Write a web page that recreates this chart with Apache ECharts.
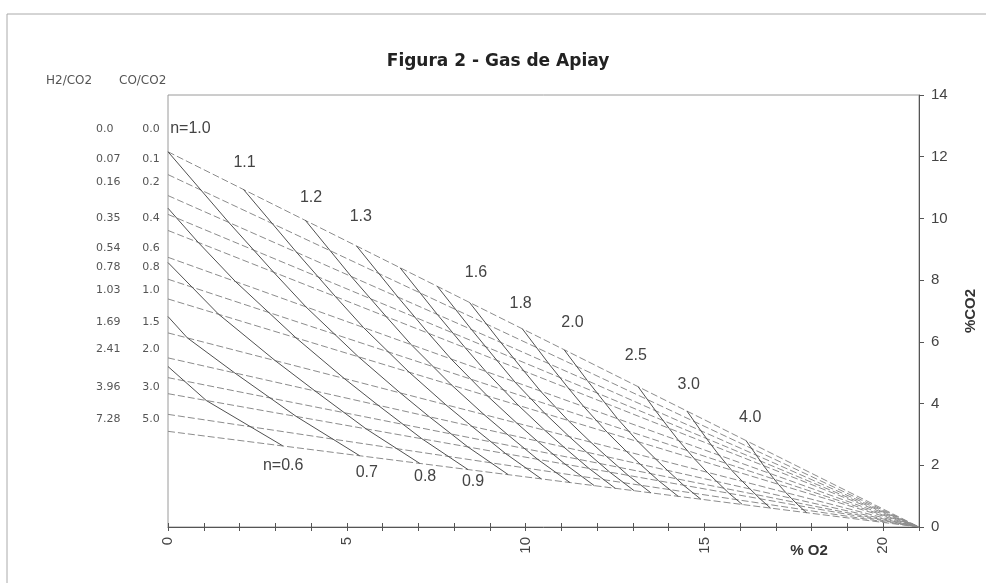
<!DOCTYPE html>
<html>
<head>
<meta charset="utf-8">
<script src="https://cdn.jsdelivr.net/npm/echarts@6/dist/echarts.min.js"></script>
<style>
html,body{margin:0;padding:0;background:#fff;}
#c{width:986px;height:583px;}
</style>
</head>
<body>
<div id="c"></div>
<script>
// ---- data ----
// Lines of constant CO/CO2 ratio: start on the %O2 = 0 axis, all meet at pure air (21 % O2, 0 % CO2)
const coRatios   = [0, 0.1, 0.2, 0.3, 0.4, 0.6, 0.8, 1.0, 1.5, 2.0, 2.5, 3.0, 4.0, 5.0];
const coStartCO2 = [12.16, 11.42, 10.74, 10.13, 9.61, 8.74, 8.03, 7.39, 6.29, 5.48, 4.84, 4.32, 3.65, 3.10];
const airPoint   = [21, 0];

// Lines of constant excess-air factor n: [%O2, %CO2] points
const nValues = [1.0, 1.1, 1.2, 1.3, 1.4, 1.5, 1.6, 1.8, 2.0, 2.5, 3.0, 4.0, 0.9, 0.8, 0.7, 0.6];
const nLine10 = [[0,12.16],[1.70,9.87],[2.96,8.25],[3.86,7.13],[5.32,5.52],[6.49,4.35],[7.31,3.57],[8.38,2.60],[9.51,1.70]];
const nLine11 = [[2.11,10.94],[3.59,8.91],[4.68,7.47],[5.47,6.46],[6.74,5.02],[7.77,3.96],[8.49,3.27],[9.44,2.38],[10.44,1.56]];
const nLine12 = [[3.84,9.94],[5.13,8.11],[6.10,6.82],[6.80,5.91],[7.93,4.60],[8.84,3.64],[9.48,3.01],[10.34,2.19],[11.24,1.44]];
const nLine13 = [[5.27,9.11],[6.43,7.45],[7.29,6.27],[7.92,5.44],[8.93,4.25],[9.75,3.37],[10.33,2.78],[11.10,2.04],[11.92,1.34]];
const nLine14 = [[6.49,8.40],[7.53,6.89],[8.31,5.81],[8.88,5.05],[9.79,3.95],[10.54,3.13],[11.07,2.59],[11.77,1.90],[12.51,1.25]];
const nLine15 = [[7.53,7.80],[8.48,6.41],[9.19,5.41],[9.70,4.70],[10.54,3.68],[11.22,2.93],[11.70,2.43],[12.35,1.78],[13.03,1.18]];
const nLine16 = [[8.43,7.28],[9.30,5.99],[9.95,5.06],[10.42,4.40],[11.19,3.45],[11.82,2.75],[12.27,2.28],[12.86,1.68],[13.50,1.11]];
const nLine18 = [[9.91,6.42],[10.65,5.29],[11.21,4.48],[11.62,3.91],[12.28,3.07],[12.82,2.45],[13.21,2.03],[13.72,1.50],[14.27,0.99]];
const nLine20 = [[11.08,5.74],[11.73,4.74],[12.22,4.02],[12.57,3.51],[13.15,2.76],[13.63,2.21],[13.96,1.84],[14.42,1.35],[14.90,0.90]];
const nLine25 = [[13.15,4.54],[13.64,3.76],[14.01,3.20],[14.28,2.80],[14.72,2.21],[15.08,1.77],[15.34,1.48],[15.69,1.09],[16.06,0.73]];
const nLine30 = [[14.51,3.76],[14.90,3.12],[15.19,2.66],[15.41,2.33],[15.76,1.84],[16.06,1.48],[16.27,1.24],[16.55,0.92],[16.85,0.61]];
const nLine40 = [[16.17,2.79],[16.45,2.33],[16.66,1.98],[16.82,1.74],[17.07,1.38],[17.28,1.11],[17.43,0.93],[17.64,0.69],[17.86,0.46]];
const nLine09 = [[0,10.33],[0.84,9.23],[1.89,7.95],[3.58,6.13],[4.93,4.81],[5.87,3.95],[7.10,2.86],[8.39,1.86]];
const nLine08 = [[0,8.57],[1.41,6.90],[3.00,5.39],[4.11,4.41],[5.54,3.18],[7.04,2.06]];
const nLine07 = [[0,6.82],[0.54,6.13],[1.87,4.99],[3.59,3.58],[5.36,2.31]];
const nLine06 = [[0,5.20],[1.07,4.10],[3.21,2.63]];
const nLines = [nLine10,nLine11,nLine12,nLine13,nLine14,nLine15,nLine16,nLine18,nLine20,nLine25,nLine30,nLine40,nLine09,nLine08,nLine07,nLine06];

// n labels and their anchor points [%O2, %CO2]
const nLabelText = ['n=1.0','1.1','1.2','1.3','1.6','1.8','2.0','2.5','3.0','4.0','n=0.6','0.7','0.8','0.9'];
const nLabelAt   = [[0.06,12.90],[2.14,11.80],[4.00,10.69],[5.39,10.05],[8.61,8.23],[9.86,7.23],[11.31,6.61],[13.08,5.54],[14.56,4.60],[16.28,3.56],[3.22,1.98],[5.56,1.75],[7.19,1.62],[8.53,1.46]];

// left-hand legend columns (H2/CO2 and CO/CO2) and their %CO2 heights
const h2co2Labels = ['0.0','0.07','0.16','0.35','0.54','0.78','1.03','1.69','2.41','3.96','7.28'];
const coco2Labels = ['0.0','0.1','0.2','0.4','0.6','0.8','1.0','1.5','2.0','3.0','5.0'];
const leftLabelCO2 = [12.90, 11.92, 11.18, 10.01, 9.04, 8.43, 7.68, 6.64, 5.77, 4.54, 3.50];

const xTickLabels = [0, 5, 10, 15, 20];

// ---- layout ----
const G = {left:168, right:62, top:95, bottom:56};
const W = 986, H = 583;
const gridW = W - G.left - G.right, gridH = H - G.top - G.bottom;

// ---- chart ----
const chart = echarts.init(document.getElementById('c'), null, {renderer:'canvas'});
const series = [];
coRatios.forEach((r, i) => {
  series.push({
    type:'line', name:'CO/CO2=' + r, data:[[0, coStartCO2[i]], airPoint],
    symbol:'none', silent:true, animation:false,
    lineStyle:{color:'#8c8c8c', width:1, type:[7,3]}, z:2
  });
});
nLines.forEach((pts, i) => {
  series.push({
    type:'line', name:'n=' + nValues[i], data:pts,
    symbol:'none', silent:true, animation:false,
    lineStyle:{color:'#505050', width:1}, z:3
  });
});

const tickStyle = {color:'#555'};
chart.setOption({
  animation:false,
  grid:Object.assign({show:true, borderColor:'#9a9a9a', borderWidth:1}, G),
  xAxis:[
    {type:'value', position:'bottom', min:0, max:21, interval:1, splitLine:{show:false},
      axisLine:{show:true, onZero:false, lineStyle:{color:'#555'}},
      axisTick:{show:true, length:4, lineStyle:tickStyle},
      axisLabel:{rotate:90, margin:10, fontSize:15, color:'#444', fontFamily:'Liberation Sans',
        formatter:v => xTickLabels.indexOf(v) >= 0 ? String(v) : ''}},
    // second copy of the scale, moved onto the bottom edge, so the ticks also point into the plot
    {type:'value', position:'top', offset:-gridH, min:0, max:21, interval:1, splitLine:{show:false},
      axisLine:{show:false}, axisTick:{show:true, length:4, lineStyle:tickStyle},
      axisLabel:{show:false}}
  ],
  yAxis:[
    {type:'value', position:'right', min:0, max:14, interval:2, splitLine:{show:false},
      axisLine:{show:true, onZero:false, lineStyle:{color:'#555'}},
      axisTick:{show:true, length:5, lineStyle:tickStyle},
      axisLabel:{margin:12, fontSize:15, color:'#444', fontFamily:'Liberation Sans'},
      name:'%CO2', nameLocation:'middle', nameRotate:90, nameGap:44,
      nameTextStyle:{fontSize:15, fontWeight:'bold', color:'#333', fontFamily:'Liberation Sans'}},
    {type:'value', position:'left', offset:-gridW, min:0, max:14, interval:2, splitLine:{show:false},
      axisLine:{show:false}, axisTick:{show:true, length:5, lineStyle:tickStyle},
      axisLabel:{show:false}}
  ],
  series: series
});

function px(pt){ return chart.convertToPixel({xAxisIndex:0, yAxisIndex:0}, pt); }
function pyOnly(v){ return chart.convertToPixel({yAxisIndex:0}, v); }

const g = [];
// outer frame of the figure
g.push({type:'rect', shape:{x:7, y:14, width:1000, height:620}, style:{fill:'none', stroke:'#aaa', lineWidth:1}, silent:true});
// title
g.push({type:'text', x:498, y:62, style:{text:'Figura 2 - Gas de Apiay', font:'bold 17px "DejaVu Sans"', fill:'#222', align:'center', verticalAlign:'middle'}});
// left column headers
g.push({type:'text', x:46, y:81, style:{text:'H2/CO2', font:'12px "DejaVu Sans"', fill:'#555', align:'left', verticalAlign:'middle'}});
g.push({type:'text', x:119, y:81, style:{text:'CO/CO2', font:'12px "DejaVu Sans"', fill:'#555', align:'left', verticalAlign:'middle'}});
// left columns
h2co2Labels.forEach((t, i) => {
  const y = pyOnly(leftLabelCO2[i]);
  g.push({type:'text', x:96, y:y, style:{text:t, font:'11px "DejaVu Sans"', fill:'#555', align:'left', verticalAlign:'middle'}});
  g.push({type:'text', x:151, y:y, style:{text:coco2Labels[i], font:'11px "DejaVu Sans"', fill:'#555', align:'center', verticalAlign:'middle'}});
});
// n labels
nLabelText.forEach((t, i) => {
  const p = px(nLabelAt[i]);
  g.push({type:'text', x:p[0], y:p[1], style:{text:t, font:'16px "Liberation Sans"', fill:'#444', align: i === 0 ? 'left' : 'center', verticalAlign:'middle'}});
});
// x axis name
g.push({type:'text', x:809, y:551, style:{text:'% O2', font:'bold 15px "Liberation Sans"', fill:'#333', align:'center', verticalAlign:'middle'}});
chart.setOption({graphic:g});
</script>
</body>
</html>
